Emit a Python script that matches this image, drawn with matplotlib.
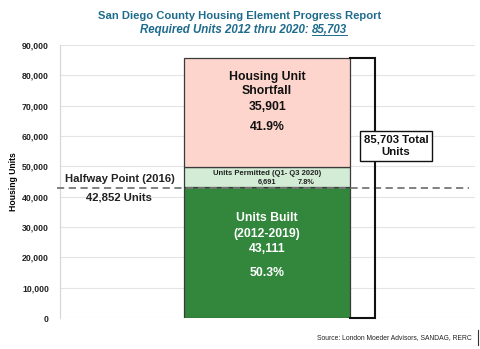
import matplotlib
matplotlib.use("Agg")
import matplotlib.pyplot as plt

plt.rcParams['font.family'] = ['Liberation Sans', 'DejaVu Sans']

# Housing element progress values
segments = ["Units Built (2012-2019)", "Units Permitted (Q1- Q3 2020)", "Housing Unit Shortfall"]
values = [43111, 6691, 35901]
shares = ["50.3%", "7.8%", "41.9%"]
colors = ["#32873c", "#d2ecd5", "#fdd5cc"]
total_units = 85703
halfway = 42852
yticks = [0, 10000, 20000, 30000, 40000, 50000, 60000, 70000, 80000, 90000]

fig = plt.figure(figsize=(4.8, 3.49), dpi=100)
ax = fig.add_axes([0.125, 0.0888, 0.865, 0.782])

bar_x = 0.499
bar_w = 0.40
bottom = 0
for v, c in zip(values, colors):
    ax.bar(bar_x, v, width=bar_w, bottom=bottom, color=c, edgecolor="#3a3a3a",
           linewidth=0.9, zorder=3)
    bottom += v

ax.set_xlim(0, 1)
ax.set_ylim(0, 90000)
ax.set_yticks(yticks)
ax.set_yticklabels([f"{t:,}" for t in yticks], fontsize=6.3, fontweight="bold", color="#222222")
ax.set_xticks([])
ax.grid(axis="y", color="#e4e4e4", linewidth=0.8, zorder=0)
ax.set_axisbelow(True)
for s in ["top", "right", "bottom"]:
    ax.spines[s].set_visible(False)
ax.spines["left"].set_color("#d8d8d8")
ax.spines["left"].set_linewidth(0.9)
ax.tick_params(axis="y", length=0, pad=8)
ax.set_ylabel("Housing Units", fontsize=6.2, fontweight="bold", labelpad=3)

# Halfway line
ax.axhline(halfway, xmin=-0.008, xmax=0.985, color="#777777", linestyle=(0, (4, 2.5)),
           linewidth=1.3, zorder=4, clip_on=False)
ax.text(0.145, halfway + 1200, "Halfway Point (2016)", ha="center", va="bottom",
        fontsize=8.1, fontweight="bold", color="#222222")
ax.text(0.143, halfway - 1300, f"{halfway:,} Units", ha="center", va="top",
        fontsize=8.1, fontweight="bold", color="#222222")

# Segment labels
lab = dict(ha="center", va="center", fontsize=8.8, fontweight="bold", zorder=5)
ax.text(bar_x, 32970, "Units Built", color="white", **lab)
ax.text(bar_x, 27700, "(2012-2019)", color="white", **lab)
ax.text(bar_x, 22750, f"{values[0]:,}", color="white", **lab)
ax.text(bar_x, 14840, shares[0], color="white", **lab)

perm_mid = values[0] + values[1] / 2
ax.text(bar_x, perm_mid + 1300, "Units Permitted (Q1- Q3 2020)", ha="center", va="center",
        fontsize=5.5, fontweight="bold", color="#222222", zorder=5)
ax.text(bar_x, perm_mid - 1650, f"{values[1]:,}", ha="center", va="center",
        fontsize=5.3, fontweight="bold", color="#222222", zorder=5)
ax.text(bar_x + 0.093, perm_mid - 1650, shares[1], ha="center", va="center",
        fontsize=5.3, fontweight="bold", color="#222222", zorder=5)

ax.text(bar_x, 79460, "Housing Unit", color="#111111", **lab)
ax.text(bar_x, 74840, "Shortfall", color="#111111", **lab)
ax.text(bar_x, 69570, f"{values[2]:,}", color="#111111", **lab)
ax.text(bar_x, 62970, shares[2], color="#111111", **lab)

# Total bracket
br_x = 0.759
right_edge = bar_x + bar_w / 2
ax.plot([right_edge, br_x, br_x, right_edge], [total_units, total_units, 0, 0],
        color="#111111", linewidth=1.5, zorder=6, clip_on=False, solid_joinstyle="miter")
ax.text(0.8095, 56800, f"{total_units:,} Total\nUnits", ha="center", va="center",
        fontsize=8.2, fontweight="bold", color="#111111", linespacing=1.25, zorder=7,
        bbox=dict(boxstyle="square,pad=0.35", facecolor="white", edgecolor="#111111", linewidth=1.0))

# Titles
title_color = "#1e6b8c"
fig.text(0.5, 0.955, "San Diego County Housing Element Progress Report", ha="center",
         va="center", fontsize=8.1, fontweight="bold", color=title_color)
t2 = fig.text(0.47, 0.915, "Required Units 2012 thru 2020: ", ha="center", va="center",
              fontsize=8.3, fontweight="bold", style="italic", color=title_color)
fig.canvas.draw()
bb = t2.get_window_extent()
t3 = fig.text(bb.x1 / fig.bbox.width, 0.915, f"{total_units:,}", ha="left", va="center",
              fontsize=8.3, fontweight="bold", style="italic", color=title_color)
fig.canvas.draw()
bb3 = t3.get_window_extent()
uy = (bb3.y0 + 1) / fig.bbox.height
fig.add_artist(plt.Line2D([bb3.x0 / fig.bbox.width, bb3.x1 / fig.bbox.width], [uy, uy],
                          transform=fig.transFigure, color=title_color, linewidth=0.7))

# Source note
fig.text(0.983, 0.033, "Source: London Moeder Advisors, SANDAG, RERC", ha="right", va="center",
         fontsize=4.9, color="#222222")
fig.add_artist(plt.Line2D([0.996, 0.996], [0.012, 0.055], transform=fig.transFigure,
                          color="#333333", linewidth=0.8))

fig.savefig("out.png", dpi=100)
